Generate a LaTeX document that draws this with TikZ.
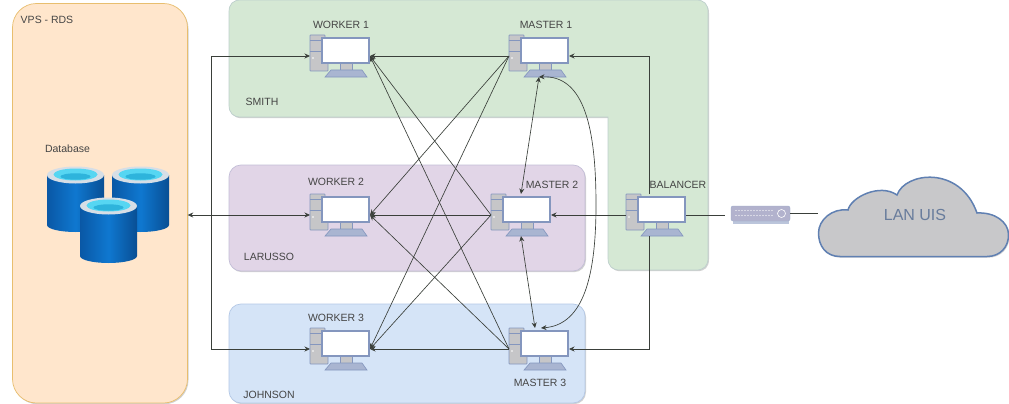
\documentclass[tikz,border=0pt]{standalone}
\usepackage{fontspec}
\setmainfont{Liberation Sans}
\usetikzlibrary{arrows.meta,shadows,calc}
\definecolor{txt}{HTML}{454545}
\definecolor{edge}{HTML}{3A3F3A}
\definecolor{pcline}{HTML}{8496BE}
\definecolor{pcgrey}{HTML}{C6C6C8}
\definecolor{dbblue}{HTML}{0A5CAE}
\definecolor{dbmid}{HTML}{0F78D0}
\definecolor{dbrim}{HTML}{D6DEE6}
\definecolor{dbcyan}{HTML}{56D6F2}
\definecolor{dbdeep}{HTML}{2EB4DC}
\tikzset{
  x=1pt,y=-1pt,
  soft/.style={drop shadow={shadow xshift=1pt,shadow yshift=-1.2pt,opacity=.18,fill=black}},
  region/.style={soft,line width=.7pt,rounded corners=12pt},
  lbl/.style={text=txt,font=\fontsize{10.5}{12}\selectfont,inner sep=0pt},
  hostbox/.style={minimum width=60pt,minimum height=42pt,inner sep=0pt,outer sep=0pt},
  link/.style={draw=edge,line width=.65pt},
  headed/.style={link,-{Stealth[length=5.5pt,width=5pt]}},
  both/.style={link,{Stealth[length=5.5pt,width=5pt]}-{Stealth[length=5.5pt,width=5pt]}},
  plain/.style={draw=edge,line width=.9pt},
  computer/.pic={
    \draw[pcline,fill=pcgrey,line width=.8pt,rounded corners=.6pt] (-30,-21) -- (-15,-21) -- (-15,-18) -- (-12,-18) -- (-12,15) -- (-30,15) -- cycle;
    \draw[pcline,line width=.5pt] (-30,-16) -- (-18,-16) (-30,-5) -- (-18,-5);
    \fill[white] (-27,2) circle (.8);
    \draw[pcline,fill=pcgrey,line width=.6pt] (0,7) rectangle (12,14);
    \draw[pcline,fill=white,line width=1.1pt] (-18,-18) rectangle (29,7);
    \draw[pcline,fill=pcline!70,line width=.6pt] (-15,21) -- (27,21) -- (22,14) -- (-9,14) -- cycle;
  },
  drum/.pic={
    \shade[left color=dbblue!95!black,right color=dbblue!85!black,middle color=dbmid]
      (-28.5,0) -- (-28.5,50) arc[start angle=180,end angle=360,x radius=28.5,y radius=-7] -- (28.5,0) -- cycle;
    \fill[dbrim] (0,0) ellipse[x radius=28.5,y radius=8.5];
    \fill[dbcyan] (0,-.5) ellipse[x radius=22,y radius=6];
    \fill[dbdeep] (0,1.5) ellipse[x radius=15,y radius=3.2];
  }
}
\begin{document}
\begin{tikzpicture}
\useasboundingbox (0,0) rectangle (1009,404);
\fill[white] (0,0) rectangle (1009,404);
% regions
\draw[region,fill={rgb,255:red,255;green,230;blue,204},draw={rgb,255:red,232;green,190;blue,110},rounded corners=24pt]
  (12.5,3.5) rectangle (187.5,403);
\draw[soft,line width=.7pt,fill={rgb,255:red,213;green,232;blue,212},draw={rgb,255:red,190;green,208;blue,205}]
  (241,0) -- (696,0) .. controls (704,0) and (708,4) .. (708,12)
  -- (708,258) .. controls (708,266) and (704,270) .. (696,270)
  -- (620,270) .. controls (612,270) and (608,266) .. (608,258)
  -- (608,117) -- (241,117) .. controls (233,117) and (229,113) .. (229,105)
  -- (229,12) .. controls (229,4) and (233,0) .. (241,0) -- cycle;
\draw[region,fill={rgb,255:red,225;green,213;blue,231},draw={rgb,255:red,195;green,190;blue,215}]
  (229,165) rectangle (585,271);
\draw[region,fill={rgb,255:red,213;green,228;blue,247},draw={rgb,255:red,180;green,200;blue,230}]
  (229,304) rectangle (585,403);
% database
\pic at (75.5,175) {drum};
\pic at (140.5,175) {drum};
\pic at (108.5,206) {drum};
% hosts
\node[hostbox] (w1) at (340,56) {};
\node[hostbox] (w2) at (340,215) {};
\node[hostbox] (w3) at (340,349) {};
\node[hostbox] (m1) at (539,56) {};
\node[hostbox] (m2) at (521,215) {};
\node[hostbox] (m3) at (539,349) {};
\node[hostbox] (bal) at (656,215) {};
\node[inner sep=0pt,minimum width=175pt,minimum height=399.5pt] (vps) at (100,213.25) {};
\pic at (w1) {computer};
\pic at (w2) {computer};
\pic at (w3) {computer};
\pic at (m1) {computer};
\pic at (m2) {computer};
\pic at (m3) {computer};
\pic at (bal) {computer};
% router
\fill[pcline!55] (733,212) rectangle (789,224);
\node[draw=pcline!80,fill=pcgrey!90!blue,rounded corners=2pt,minimum width=59pt,minimum height=15pt,inner sep=0pt] (router) at (760.5,213.5) {};
\foreach \i in {0,...,12}{
  \fill[white] (736+\i*3,210.5) circle (.6);
  \fill[white] (736+\i*3,215.5) circle (.6);
}
\draw[white,line width=.6pt] (781.5,213.5) circle (4);
% cloud
\node[inner sep=0pt,minimum width=191pt,minimum height=81pt] (cloud) at (913.5,216.5) {};
\draw[soft,draw={rgb,255:red,96;green,128;blue,178},line width=1.5pt,fill={rgb,255:red,200;green,200;blue,202}]
  (840,256.5)
  .. controls (826,256.5) and (818.5,246) .. (818.5,233)
  .. controls (818.5,220) and (832,208) .. (848,210)
  .. controls (851,197) and (880,183) .. (897,195)
  .. controls (905,172) and (960,165) .. (977,213)
  .. controls (995,212) and (1008,222) .. (1008.5,234)
  .. controls (1009,247) and (1000,256.5) .. (987,256.5)
  -- cycle;
\node[text={rgb,255:red,104;green,124;blue,156},font=\fontsize{16}{18}\selectfont,inner sep=0pt] (lan) at (915,215) {LAN UIS};
% connectors: database side
\draw[both] (vps.east |- w2.west) -- (w2.west);
\coordinate (busT) at (211,56);
\coordinate (busB) at (211,349);
\draw[headed] (busT |- w2.west) -- (busT) -- (w1.west);
\draw[headed] (busB |- w2.west) -- (busB) -- (w3.west);
% connectors: masters to workers
\foreach \m in {m1,m2,m3}{
  \foreach \w in {w1,w2,w3}{
    \draw[headed] (\m.west) -- (\w.east);
  }
}
% masters among themselves
\draw[both] (m1.south) -- (m2.north);
\draw[both] (m2.south) -- ([xshift=-4pt]m3.north);
\draw[both] (m1.south) .. controls (585,75) and (596,130) .. (596,205) .. controls (596,285) and (580,325) .. ([xshift=2pt]m3.north);
% balancer
\draw[headed] (bal.west) -- (m2.east);
\draw[headed] ([xshift=-7pt]bal.north) -- ([xshift=-7pt]bal.north |- m1.east) -- (m1.east);
\draw[headed] ([xshift=-7pt]bal.south) -- ([xshift=-7pt]bal.south |- m3.east) -- (m3.east);
\draw[plain] (bal.east) -- (725,215);
\draw[plain] (router.east) -- (cloud.west |- router.east);
% labels
\node[lbl] (t1) at (341,25) {WORKER 1};
\node[lbl] (t2) at (546,25) {MASTER 1};
\node[lbl] (t3) at (336,182) {WORKER 2};
\node[lbl] (t4) at (552,185) {MASTER 2};
\node[lbl] (t5) at (336,318) {WORKER 3};
\node[lbl] (t6) at (540,383) {MASTER 3};
\node[lbl] (t7) at (678,185) {BALANCER};
\node[lbl] (t8) at (262,102) {SMITH};
\node[lbl] (t9) at (269,257) {LARUSSO};
\node[lbl] (t10) at (269,395) {JOHNSON};
\node[lbl] (t11) at (47,20) {VPS - RDS};
\node[lbl] (t12) at (67.5,149) {Database};
\end{tikzpicture}
\end{document}
